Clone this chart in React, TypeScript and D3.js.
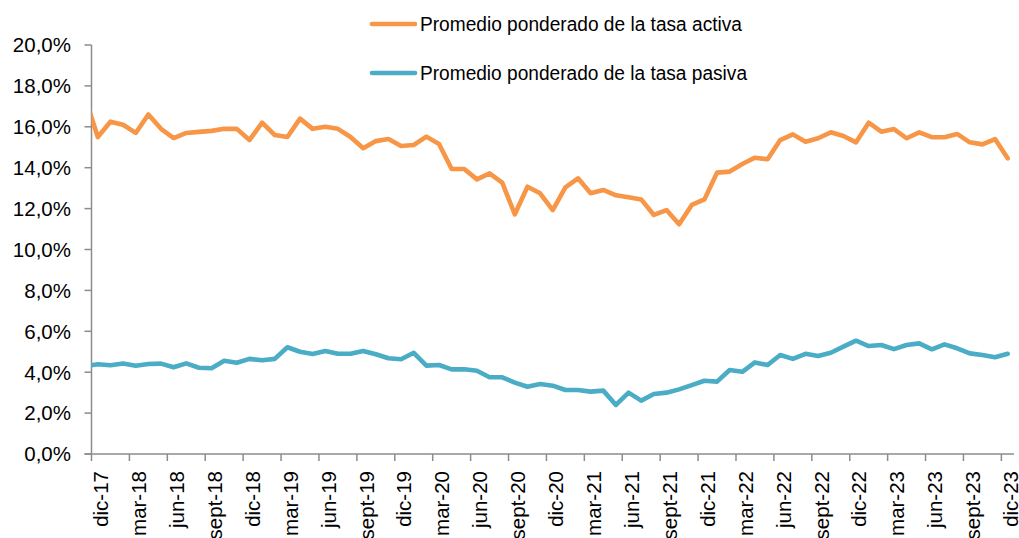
import React from "react";
import * as d3 from "d3";

// Monthly values; first entry is nov-17 (partially clipped at the axis), then dic-17 .. dic-23
const activa = [
  17.4,
  15.5, 16.25, 16.1, 15.7, 16.6, 15.9, 15.45, 15.7, 15.75, 15.8, 15.9, 15.9,
  15.35, 16.2, 15.6, 15.5, 16.4, 15.9, 16.0, 15.9, 15.5, 14.95, 15.3, 15.4,
  15.06, 15.11, 15.52, 15.16, 13.94, 13.94, 13.43, 13.72, 13.27, 11.72, 13.07, 12.75,
  11.93, 13.04, 13.48, 12.75, 12.91, 12.65, 12.55, 12.45, 11.69, 11.93, 11.23, 12.18,
  12.45, 13.76, 13.81, 14.18, 14.49, 14.41, 15.35, 15.63, 15.27, 15.44, 15.73, 15.55,
  15.24, 16.2, 15.76, 15.89, 15.44, 15.73, 15.49, 15.49, 15.65, 15.24, 15.14, 15.4,
  14.46,
];
const pasiva = [
  4.3,
  4.39, 4.34, 4.43, 4.32, 4.4, 4.42, 4.24, 4.43, 4.22, 4.19, 4.56, 4.46,
  4.65, 4.58, 4.65, 5.22, 5.0, 4.89, 5.04, 4.9, 4.9, 5.04, 4.88, 4.68,
  4.63, 4.95, 4.32, 4.35, 4.14, 4.14, 4.07, 3.75, 3.75, 3.49, 3.29, 3.42,
  3.34, 3.13, 3.13, 3.05, 3.1, 2.4, 3.0, 2.61, 2.93, 3.0, 3.16, 3.37,
  3.58, 3.54, 4.11, 4.02, 4.48, 4.35, 4.84, 4.65, 4.9, 4.79, 4.95, 5.25,
  5.54, 5.28, 5.33, 5.13, 5.33, 5.41, 5.12, 5.36, 5.17, 4.92, 4.84, 4.73,
  4.9,
];
const tickLabels = [
  "dic-17", "mar-18", "jun-18", "sept-18", "dic-18", "mar-19", "jun-19", "sept-19",
  "dic-19", "mar-20", "jun-20", "sept-20", "dic-20", "mar-21", "jun-21", "sept-21",
  "dic-21", "mar-22", "jun-22", "sept-22", "dic-22", "mar-23", "jun-23", "sept-23", "dic-23",
];
const yTicks = [0, 2, 4, 6, 8, 10, 12, 14, 16, 18, 20];
const seriesNames = ["Promedio ponderado de la tasa activa", "Promedio ponderado de la tasa pasiva"];
const colors = ["#F79646", "#4BACC6"];

const N = 73;
const left = 91.5;
const right = 1014;
const top = 45;
const bottom = 454;

export default function App() {
  const x = d3.scaleLinear().domain([-0.5, N - 0.5]).range([left, right]);
  const y = d3.scaleLinear().domain([0, 20]).range([bottom, top]);
  const line = d3
    .line<number>()
    .x((_, i) => x(i - 1))
    .y((d) => y(d));
  const font = "'Liberation Sans', Arial, sans-serif";
  const axisColor = "#8c8c8c";
  const fmt = (v: number) => v.toFixed(1).replace(".", ",") + "%";

  return (
    <svg
      width={1019}
      height={538}
      style={{ position: "absolute", left: 0, top: 0, background: "#fff" }}
      fontFamily={font}
    >
      <defs>
        <clipPath id="plot">
          <rect x={left} y={0} width={right - left + 2} height={538} />
        </clipPath>
      </defs>
      {/* y axis */}
      <line x1={left} x2={left} y1={top} y2={bottom} stroke={axisColor} strokeWidth={1.5} />
      {yTicks.map((t) => (
        <g key={t}>
          <line x1={left - 7} x2={left} y1={y(t)} y2={y(t)} stroke={axisColor} strokeWidth={1.5} />
          <text x={71} y={y(t)} dy="0.36em" textAnchor="end" fontSize={20.5} fill="#000">
            {fmt(t)}
          </text>
        </g>
      ))}
      {/* x axis */}
      <line x1={left - 7} x2={right} y1={bottom} y2={bottom} stroke={axisColor} strokeWidth={1.5} />
      {tickLabels.map((lab, k) => {
        const bx = x(3 * k - 0.5);
        const cx = x(3 * k) + 3;
        return (
          <g key={lab}>
            <line x1={bx} x2={bx} y1={bottom} y2={bottom + 7} stroke={axisColor} strokeWidth={1.5} />
            <text
              transform={`translate(${cx},471) rotate(-90)`}
              textAnchor="end"
              dy="0.36em"
              fontSize={20.5}
              fill="#000"
            >
              {lab}
            </text>
          </g>
        );
      })}
      {/* series */}
      <g clipPath="url(#plot)">
        {[activa, pasiva].map((s, si) => (
          <path
            key={si}
            d={line(s) || ""}
            fill="none"
            stroke={colors[si]}
            strokeWidth={4.6}
            strokeLinejoin="round"
            strokeLinecap="round"
          />
        ))}
      </g>
      {/* legend */}
      {seriesNames.map((name, si) => {
        const ly = si === 0 ? 24 : 73;
        return (
          <g key={name}>
            <line x1={372} x2={415} y1={ly} y2={ly} stroke={colors[si]} strokeWidth={4.6} strokeLinecap="round" />
            <text x={420} y={ly} dy="0.36em" fontSize={19.5} fill="#000" textLength={si === 0 ? 322 : 327} lengthAdjust="spacingAndGlyphs">
              {name}
            </text>
          </g>
        );
      })}
    </svg>
  );
}
